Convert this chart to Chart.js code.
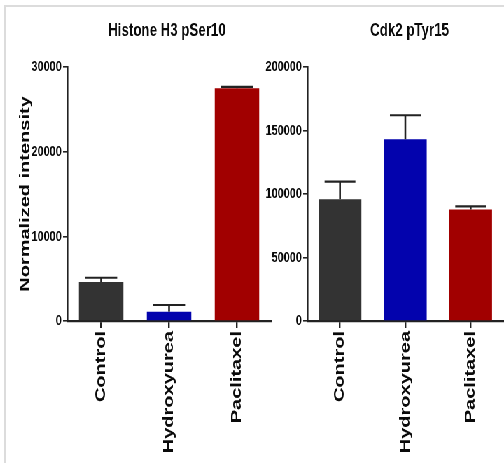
<!DOCTYPE html>
<html>
<head>
<meta charset="utf-8">
<script src="https://cdn.jsdelivr.net/npm/chart.js@4.4.1/dist/chart.umd.min.js"></script>
<style>
  html, body { margin: 0; padding: 0; background: #ffffff; overflow: hidden; width: 504px; height: 463px; }
  #frame { position: absolute; left: 4px; top: 5px; width: 700px; height: 700px;
           border-left: 2px solid #dcdcdc; border-top: 2px solid #dcdcdc; }
  #stage { position: absolute; left: 0; top: 0; width: 720px; height: 463px;
           transform: scaleX(0.7); transform-origin: 0 0; }
  #stage canvas { position: absolute; top: 0; }
</style>
</head>
<body>
<div id="frame"></div>
<div id="stage">
  <canvas id="c1" width="388" height="463" style="left:0px;width:388px;height:463px"></canvas>
  <canvas id="c2" width="345" height="463" style="left:375px;width:345px;height:463px"></canvas>
</div>
<script>
// ---- data ----
const categories = ["Control", "Hydroxyurea", "Paclitaxel"];
const barColors = ["#333333", "#0303ad", "#a10000"];

const histoneTitle = "Histone H3 pSer10";
const histoneValues = [4600, 1100, 27500];
const histoneErrors = [510, 790, 160];
const histoneTicks = [0, 10000, 20000, 30000];

const cdkTitle = "Cdk2 pTyr15";
const cdkValues = [95900, 143100, 87800];
const cdkErrors = [13900, 18900, 2400];
const cdkTicks = [0, 50000, 100000, 150000, 200000];

const yAxisTitle = "Normalized intensity";

// ---- plugins ----
const errorBarPlugin = {
  id: 'errorBars',
  afterDatasetsDraw(chart, args, opts) {
    const ctx = chart.ctx;
    const meta = chart.getDatasetMeta(0);
    const y = chart.scales.y;
    const vals = chart.data.datasets[0].data;
    const errs = opts.errors || [];
    ctx.save();
    ctx.strokeStyle = '#222222';
    meta.data.forEach((bar, i) => {
      const top = y.getPixelForValue(vals[i] + errs[i]);
      const base = y.getPixelForValue(vals[i]);
      const half = bar.width * 0.36;
      ctx.lineWidth = 2.6;
      ctx.beginPath();
      ctx.moveTo(bar.x, base);
      ctx.lineTo(bar.x, top);
      ctx.stroke();
      ctx.lineWidth = 2.2;
      ctx.beginPath();
      ctx.moveTo(bar.x - half, top);
      ctx.lineTo(bar.x + half, top);
      ctx.stroke();
    });
    ctx.restore();
  }
};

const panelTitlePlugin = {
  id: 'panelTitle',
  afterDraw(chart, args, opts) {
    const ctx = chart.ctx;
    const a = chart.chartArea;
    ctx.save();
    ctx.font = 'bold 19px "Liberation Sans", Arial, sans-serif';
    ctx.fillStyle = '#0a0a0a';
    ctx.textAlign = 'center';
    ctx.textBaseline = 'alphabetic';
    ctx.fillText(opts.text, (a.left + a.right) / 2 + (opts.offset || 0), 36);
    ctx.restore();
  }
};

function makeChart(id, title, values, errors, ticks, yWidth, showYTitle, titleOffset) {
  const tickFont = { family: '"Liberation Sans", Arial, sans-serif', size: 15.5, weight: 'bold' };
  return new Chart(document.getElementById(id), {
    type: 'bar',
    data: {
      labels: categories,
      datasets: [{
        data: values,
        backgroundColor: barColors,
        borderWidth: 0,
        barPercentage: 0.655,
        categoryPercentage: 1.0
      }]
    },
    plugins: [errorBarPlugin, panelTitlePlugin],
    options: {
      responsive: false,
      animation: false,
      devicePixelRatio: 1,
      layout: { padding: { top: 67, right: 1, bottom: 0, left: 0 } },
      plugins: {
        legend: { display: false },
        tooltip: { enabled: false },
        title: { display: false },
        errorBars: { errors: errors },
        panelTitle: { text: title, offset: titleOffset }
      },
      scales: {
        x: {
          offset: true,
          grid: { display: true, offset: false, drawOnChartArea: false, drawTicks: true,
                  tickLength: 7, color: '#222222', lineWidth: 2.4 },
          border: { display: true, color: '#222222', width: 2.2 },
          ticks: { color: '#0a0a0a', font: { family: '"Liberation Sans", Arial, sans-serif', size: 20, weight: 'bold' },
                   minRotation: 90, maxRotation: 90, padding: 3, autoSkip: false },
          afterFit(scale) { scale.height = 142; }
        },
        y: {
          min: ticks[0],
          max: ticks[ticks.length - 1],
          afterBuildTicks(scale) { scale.ticks = ticks.map(v => ({ value: v })); },
          grid: { display: true, drawOnChartArea: false, drawTicks: true,
                  tickLength: 6, color: '#222222', lineWidth: 1.6 },
          border: { display: true, color: '#222222', width: 2.6 },
          ticks: { color: '#0a0a0a', font: tickFont, padding: 2,
                   callback: (v) => String(v) },
          title: { display: showYTitle, text: yAxisTitle, color: '#0a0a0a',
                   font: { family: '"Liberation Sans", Arial, sans-serif', size: 20, weight: 'bold' },
                   padding: { top: 24, bottom: 0 } },
          afterFit(scale) { scale.width = yWidth; }
        }
      }
    }
  });
}

makeChart('c1', histoneTitle, histoneValues, histoneErrors, histoneTicks, 96, true, -3);
makeChart('c2', cdkTitle, cdkValues, cdkErrors, cdkTicks, 64, false, 6);
</script>
</body>
</html>
